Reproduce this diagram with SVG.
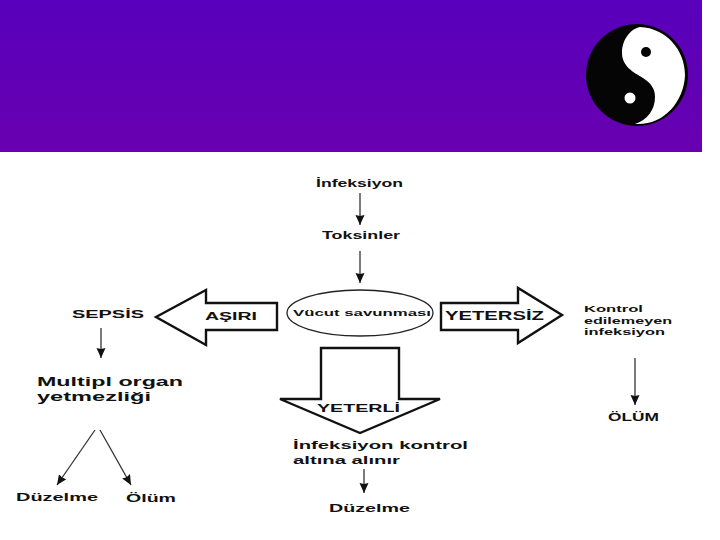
<svg xmlns="http://www.w3.org/2000/svg" width="720" height="540" viewBox="0 0 720 540">
<style>
text{font-family:"Liberation Sans",Arial,sans-serif;font-weight:bold;fill:#111}
.t9{font-size:9.500px}.t10{font-size:10.500px}.t11{font-size:11px}.t12{font-size:12px}.t13{font-size:13px}
.big{fill:#fff;stroke:#111;stroke-width:2.400;stroke-linejoin:miter}
.c{stroke:#333;stroke-width:1.300;fill:none;marker-end:url(#a)}
</style>
<defs>
<linearGradient id="g" x1="0" y1="0" x2="0" y2="1"><stop offset="0" stop-color="#5800bc"/><stop offset="1" stop-color="#6800b0"/></linearGradient>
<marker id="a" markerUnits="userSpaceOnUse" markerWidth="12" markerHeight="12" refX="10" refY="5" orient="auto"><path d="M0 0.500L10 5L0 9.500L1 5Z" fill="#111"/></marker>
</defs>
<rect width="720" height="540" fill="#fff"/>
<rect id="header" width="702" height="152" fill="url(#g)"/>
<g id="yinyang">
<circle cx="637" cy="75" r="51" fill="#050505"/>
<path d="M640 27C630 29 622 40 622 53C622 66 633 72 643 78C651 83 655 89 655 97C655 110 647 120 635 124C662 126 684 103 685 75C685 50 666 28 640 27Z" fill="#fff"/>
<circle cx="646" cy="52" r="5" fill="#050505"/>
<circle cx="630" cy="98" r="5.500" fill="#fff"/>
</g>
<g id="connectors">
<path class="c" d="M360 193V225"/>
<path class="c" d="M360 251V283"/>
<path class="c" d="M101 328V358"/>
<path class="c" d="M95 430L57 485"/>
<path class="c" d="M100 430L131 485"/>
<path class="c" d="M635 358V405"/>
<path class="c" d="M364 469V493"/>
</g>
<g id="n-infeksiyon"><text class="t10" x="316" y="187" textLength="87" lengthAdjust="spacingAndGlyphs">İnfeksiyon</text></g>
<g id="n-toksinler"><text class="t10" x="322" y="239" textLength="78" lengthAdjust="spacingAndGlyphs">Toksinler</text></g>
<g id="n-vucut"><ellipse cx="360" cy="313" rx="73" ry="23" fill="#fff" stroke="#222" stroke-width="1.300"/><text class="t9" x="293" y="316" textLength="138" lengthAdjust="spacingAndGlyphs">Vücut savunması</text></g>
<g id="n-asiri"><path class="big" d="M156 317L206 290V303H277V330H206V345Z"/><text class="t11" x="205" y="320" textLength="52" lengthAdjust="spacingAndGlyphs">AŞIRI</text></g>
<g id="n-yetersiz"><path class="big" d="M441 303H518V288L562 315L518 343V330H441Z"/><text class="t12" x="445" y="320" textLength="99" lengthAdjust="spacingAndGlyphs">YETERSİZ</text></g>
<g id="n-yeterli"><path class="big" d="M321 348H399V399H440L360 433L280 399H321Z"/><text class="t11" x="317" y="412" textLength="83" lengthAdjust="spacingAndGlyphs">YETERLİ</text></g>
<g id="n-sepsis"><text class="t11" x="72" y="318" textLength="72" lengthAdjust="spacingAndGlyphs">SEPSİS</text></g>
<g id="n-multipl"><text class="t13" x="37" y="386" textLength="146" lengthAdjust="spacingAndGlyphs">Multipl organ</text><text class="t13" x="37" y="401" textLength="114" lengthAdjust="spacingAndGlyphs">yetmezliği</text></g>
<g id="n-duzelme1"><text class="t11" x="16" y="501" textLength="82" lengthAdjust="spacingAndGlyphs">Düzelme</text></g>
<g id="n-olum1"><text class="t11" x="126" y="502" textLength="50" lengthAdjust="spacingAndGlyphs">Ölüm</text></g>
<g id="n-kontrol"><text class="t9" x="584" y="312" textLength="59" lengthAdjust="spacingAndGlyphs">Kontrol</text><text class="t9" x="584" y="324" textLength="88" lengthAdjust="spacingAndGlyphs">edilemeyen</text><text class="t9" x="584" y="335" textLength="81" lengthAdjust="spacingAndGlyphs">infeksiyon</text></g>
<g id="n-olum2"><text class="t10" x="608" y="421" textLength="51" lengthAdjust="spacingAndGlyphs">ÖLÜM</text></g>
<g id="n-kontrolalti"><text class="t11" x="293" y="449" textLength="175" lengthAdjust="spacingAndGlyphs">İnfeksiyon kontrol</text><text class="t11" x="293" y="464" textLength="107" lengthAdjust="spacingAndGlyphs">altına alınır</text></g>
<g id="n-duzelme2"><text class="t11" x="329" y="512" textLength="81" lengthAdjust="spacingAndGlyphs">Düzelme</text></g>
</svg>
